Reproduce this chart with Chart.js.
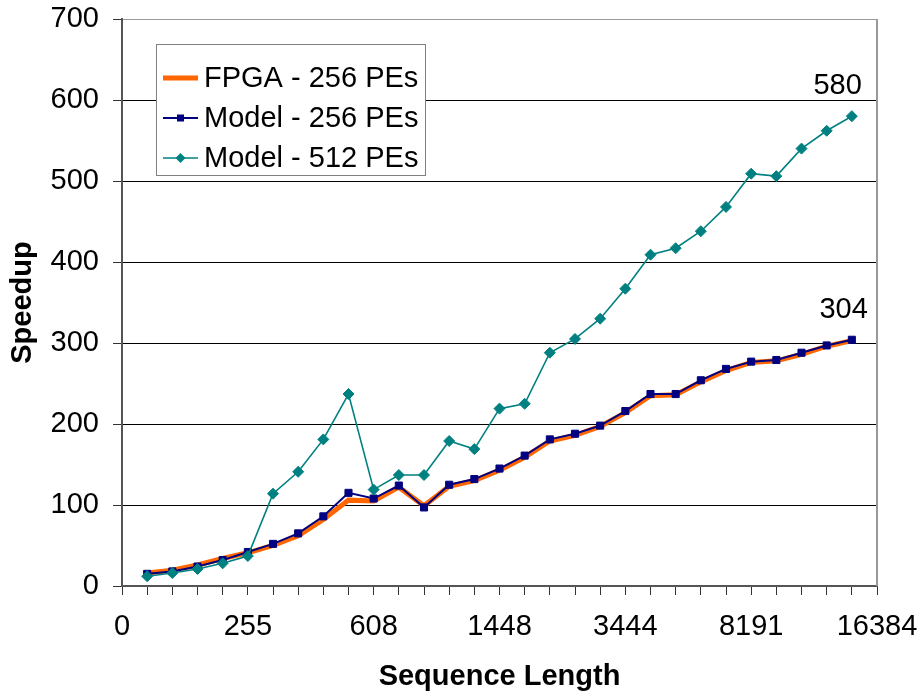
<!DOCTYPE html>
<html>
<head>
<meta charset="utf-8">
<script src="https://cdn.jsdelivr.net/npm/chart.js@4.4.0/dist/chart.umd.min.js"></script>
<style>
    html, body { margin: 0; padding: 0; background: #fff; }
</style>
</head>
<body>
<canvas id="chart" width="922" height="694"></canvas>
<script>
// Speedup vs sequence length
const xTickLabels = ['0', '255', '608', '1448', '3444', '8191', '16384'];
const seriesNames = ['FPGA - 256 PEs', 'Model - 256 PEs', 'Model - 512 PEs'];

const fpga256 = [16, 19.5, 26, 34, 41, 50, 62, 82, 106, 105, 122, 99, 123, 130, 143, 159, 179,
    186, 197, 214, 235, 236, 252, 266, 276, 278, 286, 296, 303];
const model256 = [15, 18, 24, 32, 42, 52, 65, 86, 115, 108, 124, 97, 125, 132, 145, 161, 181,
    188, 198, 216, 237, 237, 254, 268, 277, 279, 288, 297, 304];
const model512 = [12, 16, 21, 28, 37, 114, 141, 181, 237, 119, 137, 137, 179, 169, 219, 225, 288,
    305, 330, 367, 409, 417, 438, 468, 509, 506, 540, 562, 580];

const colors = ['#FF6600', '#000080', '#008080'];
const font = 'Liberation Sans, Arial, sans-serif';
const fontSize = 29;

// category slots sit on ticks 1..29, labels every 5th tick
function toPoints(values) {
    return values.map((v, i) => ({ x: i + 1, y: v }));
}

// plot area border on the right side (top edge comes from the 700 gridline)
const plotBorder = {
    id: 'plotBorder',
    beforeDatasetsDraw(chart) {
        const { ctx, chartArea } = chart;
        ctx.save();
        ctx.strokeStyle = '#999';
        ctx.lineWidth = 2;
        ctx.beginPath();
        ctx.moveTo(chartArea.right, chartArea.top);
        ctx.lineTo(chartArea.right, chartArea.bottom);
        ctx.stroke();
        ctx.restore();
    }
};

// value labels on the last point of the two model series
const endLabels = {
    id: 'endLabels',
    afterDatasetsDraw(chart) {
        const { ctx } = chart;
        ctx.save();
        ctx.font = fontSize + 'px ' + font;
        ctx.fillStyle = '#000';
        ctx.textAlign = 'right';
        ctx.textBaseline = 'middle';
        [[1, 16], [2, 10]].forEach(([ds, dx]) => {
            const meta = chart.getDatasetMeta(ds);
            const pt = meta.data[meta.data.length - 1];
            const data = chart.data.datasets[ds].data;
            ctx.fillText(String(data[data.length - 1].y), pt.x + dx, pt.y - 30);
        });
        ctx.restore();
    }
};

// Excel style legend box inside the plot
const boxLegend = {
    id: 'boxLegend',
    afterDatasetsDraw(chart) {
        const { ctx } = chart;
        const left = 156, top = 44, right = 425, bottom = 175;
        ctx.save();
        ctx.fillStyle = '#fff';
        ctx.fillRect(left, top, right - left, bottom - top);
        ctx.strokeStyle = '#808080';
        ctx.lineWidth = 1;
        ctx.strokeRect(left + 0.5, top + 0.5, right - left, bottom - top);

        const rows = [78, 118, 158];
        chart.data.datasets.forEach((ds, i) => {
            const y = rows[i];
            ctx.strokeStyle = ds.borderColor;
            ctx.lineWidth = ds.borderWidth;
            ctx.beginPath();
            ctx.moveTo(163, y);
            ctx.lineTo(198, y);
            ctx.stroke();
            ctx.fillStyle = ds.borderColor;
            if (ds.pointStyle === 'rect') {
                ctx.fillRect(177, y - 3.5, 7, 7);
            } else if (ds.pointStyle === 'rectRot') {
                ctx.beginPath();
                ctx.moveTo(180.5, y - 5);
                ctx.lineTo(185.5, y);
                ctx.lineTo(180.5, y + 5);
                ctx.lineTo(175.5, y);
                ctx.closePath();
                ctx.fill();
            }
            ctx.fillStyle = '#000';
            ctx.font = fontSize + 'px ' + font;
            ctx.textAlign = 'left';
            ctx.textBaseline = 'middle';
            ctx.fillText(ds.label, 204, y + 1);
        });
        ctx.restore();
    }
};

const ctx = document.getElementById('chart').getContext('2d');
new Chart(ctx, {
    type: 'line',
    data: {
        datasets: [
            {
                label: seriesNames[0],
                data: toPoints(fpga256),
                borderColor: colors[0],
                backgroundColor: colors[0],
                borderWidth: 5,
                pointRadius: 0,
                tension: 0,
                order: 3
            },
            {
                label: seriesNames[1],
                data: toPoints(model256),
                borderColor: colors[1],
                backgroundColor: colors[1],
                borderWidth: 2,
                pointStyle: 'rect',
                pointRadius: 5,
                pointBorderWidth: 1,
                tension: 0,
                order: 2
            },
            {
                label: seriesNames[2],
                data: toPoints(model512),
                borderColor: colors[2],
                backgroundColor: colors[2],
                borderWidth: 1.6,
                pointStyle: 'rectRot',
                pointRadius: 5.5,
                pointBorderWidth: 1,
                tension: 0,
                order: 1
            }
        ]
    },
    options: {
        responsive: false,
        animation: false,
        devicePixelRatio: 1,
        layout: {
            padding: { top: 19, right: 45, left: 0, bottom: 0 }
        },
        plugins: {
            legend: { display: false },
            tooltip: { enabled: false }
        },
        scales: {
            x: {
                type: 'linear',
                min: 0,
                max: 30,
                afterFit: s => {
                    s.height = 108;
                    s.paddingLeft = 0;
                    s.paddingRight = 0;
                },
                ticks: {
                    stepSize: 1,
                    autoSkip: false,
                    maxRotation: 0,
                    padding: 15,
                    color: '#000',
                    font: { family: font, size: fontSize },
                    callback: v => (v % 5 === 0 ? xTickLabels[v / 5] : '')
                },
                grid: {
                    drawOnChartArea: false,
                    tickLength: 9,
                    color: '#333'
                },
                border: { color: '#555', width: 2 },
                title: {
                    display: true,
                    text: 'Sequence Length',
                    color: '#000',
                    font: { family: font, size: fontSize, weight: 'bold' },
                    padding: { top: 0, bottom: 0 }
                }
            },
            y: {
                min: 0,
                max: 700,
                afterFit: s => {
                    s.width = 122;
                    s.paddingTop = 0;
                    s.paddingBottom = 0;
                },
                ticks: {
                    stepSize: 100,
                    padding: 14,
                    color: '#000',
                    font: { family: font, size: fontSize }
                },
                grid: {
                    color: c => (c.tick && c.tick.value === 700 ? '#999' : '#000'),
                    tickColor: '#333',
                    tickLength: 9,
                    lineWidth: 1
                },
                border: { color: '#555', width: 2 },
                title: {
                    display: true,
                    text: 'Speedup',
                    color: '#000',
                    font: { family: font, size: fontSize, weight: 'bold' },
                    padding: { top: 6, bottom: 0 }
                }
            }
        }
    },
    plugins: [plotBorder, endLabels, boxLegend]
});
</script>
</body>
</html>
